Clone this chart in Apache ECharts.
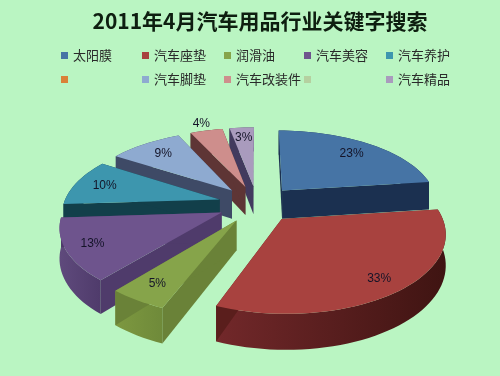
<!DOCTYPE html>
<html>
<head>
<meta charset="utf-8">
<style>
  html, body { margin: 0; padding: 0; background: #baf5c2; }
  #chart { width: 500px; height: 376px; }
</style>
</head>
<body>
<div id="chart"></div>
<script src="https://cdn.jsdelivr.net/npm/echarts@6/dist/echarts.min.js"></script>
<script>
  var titleText = '2011年4月汽车用品行业关键字搜索';
  // two legend entries have no name in the original, they are told apart by whitespace
  var sliceNames = ['太阳膜', '汽车座垫', '润滑油', '汽车美容', '汽车养护', ' ', '汽车脚垫', '汽车改装件', '  ', '汽车精品'];
  var sliceValues = [23, 33, 5, 13, 10, 0, 9, 4, 0, 3];

  // colours, per slice
  var topColors = ['#4674a5', '#a8423f', '#86a44a', '#6e548d', '#3d96ae', '#da8137', '#8eaad0', '#ce8e8c', '#b5d0a0', '#a99bbd'];
  var arcColors = [['#1b3050', '#1b3050'], ['#72282a', '#3f1412'], ['#7d9840', '#6f8a3a'], ['#5f4a7c', '#4f3b6b'], ['#123f4a', '#123f4a'], ['#da8137', '#da8137'], ['#3e4a66', '#3e4a66'], ['#5e3535', '#5e3535'], ['#b5d0a0', '#b5d0a0'], ['#423a5e', '#423a5e']];
  var cutColors = ['#1b3050', '#5a1e1c', '#6a8238', '#4f3b6b', '#123f4a', '#da8137', '#3e4a66', '#5e3535', '#b5d0a0', '#423a5e'];
  // back slices first
  var paintRank = [4, 7, 6, 5, 3, 0, 2, 1, 0, 0];
  var labelRadius = [1.03, 1.1, 1.07, 1.09, 1.05, 1, 1.02, 1.4, 1, 1.06];

  // the tilted, exploded disc
  var centerX = 257, centerY = 204;
  var scaleX = 156, scaleY = 73.8, perspective = 0.163, perspectiveX = 0.16, depth = 29, explode = 0.25;
  var legendCols = [61, 142, 224, 304, 386];
  var legendRows = [49, 73];

  var total = sliceValues.reduce(function (a, b) { return a + b; }, 0);

  function project(x, y, drop) {
    var s = 1 / (1 + perspective * y);
    var sx = 1 / (1 + perspectiveX * y);
    return [centerX + scaleX * x * sx, centerY - scaleY * y * s + (drop ? depth * s : 0)];
  }

  function sliceAngles(index) {
    var before = 0;
    for (var i = 0; i < index; i++) before += sliceValues[i];
    var a0 = before / total * Math.PI * 2;
    return [a0, a0 + sliceValues[index] / total * Math.PI * 2];
  }

  function renderSlice(index) {
    var value = sliceValues[index];
    if (!value) return null;
    var ang = sliceAngles(index);
    var mid = (ang[0] + ang[1]) / 2;
    var ox = explode * Math.sin(mid), oy = explode * Math.cos(mid);
    var arc = [];
    var steps = Math.max(4, Math.ceil(value * 1.5));
    for (var i = 0; i <= steps; i++) {
      var t = ang[0] + (ang[1] - ang[0]) * i / steps;
      arc.push([ox + Math.sin(t), oy + Math.cos(t)]);
    }
    var apex = [ox, oy];
    var z = paintRank[index] * 10;

    function up(p) { return project(p[0], p[1], false); }
    function down(p) { return project(p[0], p[1], true); }
    function wall(a, b, color, z2) {
      return { type: 'polygon', z2: z2, shape: { points: [up(a), up(b), down(b), down(a)] }, style: { fill: color } };
    }

    var first = arc[0], last = arc[arc.length - 1];
    var arcWall = arc.map(up).concat(arc.slice().reverse().map(down));
    var children = [
      {
        type: 'polygon', z2: z, shape: { points: arcWall },
        style: {
          fill: {
            type: 'linear', x: 0, y: 0, x2: 1, y2: 0,
            colorStops: [{ offset: 0, color: arcColors[index][0] }, { offset: 1, color: arcColors[index][1] }]
          }
        }
      },
      wall(apex, first, cutColors[index], z + 1),
      wall(apex, last, cutColors[index], z + 2),
      { type: 'polygon', z2: z + 3, shape: { points: [up(apex)].concat(arc.map(up)) }, style: { fill: topColors[index] } }
    ];

    var lp = project(labelRadius[index] * Math.sin(mid), labelRadius[index] * Math.cos(mid), false);
    children.push({
      type: 'text', z2: 1000,
      style: {
        x: lp[0], y: lp[1], text: value + '%', align: 'center', verticalAlign: 'middle',
        fill: '#141428', font: '12px "Liberation Sans", sans-serif'
      }
    });
    return { type: 'group', children: children };
  }

  var chart = echarts.init(document.getElementById('chart'));
  chart.setOption({
    backgroundColor: '#baf5c2',
    animation: false,
    title: {
      text: titleText,
      left: 255,
      textAlign: 'center',
      top: 6,
      textStyle: { fontFamily: '"Noto Sans CJK SC"', fontWeight: 'bold', fontSize: 21, color: '#0e1e10' }
    },
    legend: sliceNames.map(function (name, i) {
      return {
        data: [name],
        left: legendCols[i % 5],
        top: legendRows[Math.floor(i / 5)],
        padding: 0,
        itemWidth: 7,
        itemHeight: 7,
        icon: 'rect',
        selectedMode: false,
        textStyle: { fontFamily: '"Noto Sans CJK SC"', fontSize: 13, color: '#2a2a2a' }
      };
    }),
    series: sliceNames.map(function (name, i) {
      return {
        type: 'custom',
        name: name,
        coordinateSystem: 'none',
        silent: true,
        itemStyle: { color: topColors[i] },
        data: [sliceValues[i]],
        renderItem: function () { return renderSlice(i); }
      };
    })
  });
</script>
</body>
</html>
